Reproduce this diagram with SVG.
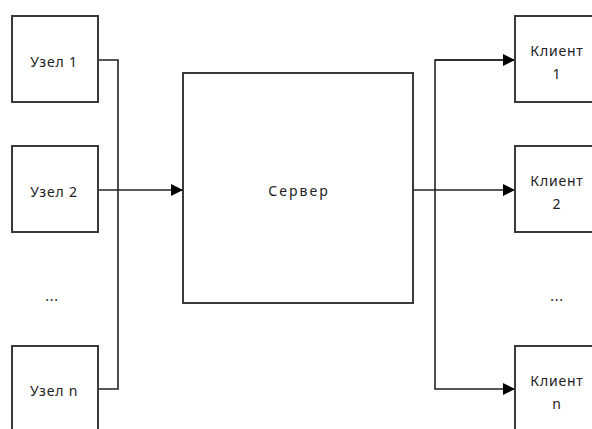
<svg xmlns="http://www.w3.org/2000/svg" width="592" height="429" viewBox="0 0 592 429">
<style>
.box{fill:#fff;stroke:#3a3a3a;stroke-width:2}
.lbl{font-family:"Noto Sans","Open Sans",sans-serif;font-size:14px;fill:#222;text-anchor:middle;dominant-baseline:central;letter-spacing:0.8px}
.ln{fill:none;stroke:#222;stroke-width:1.6}
</style>
<defs>
<marker id="arr" markerWidth="12" markerHeight="12" refX="12" refY="6" orient="auto" markerUnits="userSpaceOnUse">
<path d="M0,0 L12,6 L0,12 Z" fill="#000"/>
</marker>
</defs>
<rect width="592" height="429" fill="#fff"/>
<g id="connectors">
<path class="ln" d="M98,60 H118 V389 H98"/>
<path class="ln" d="M98,190 H183" marker-end="url(#arr)"/>
<path class="ln" d="M413,190 H515" marker-end="url(#arr)"/>
<path class="ln" d="M515,60 H435 V389 H515" marker-end="url(#arr)"/>
<path class="ln" d="M435,60 H515" marker-end="url(#arr)"/>
</g>
<g id="node1"><rect class="box" x="12" y="16" width="86" height="86"/><text class="lbl" x="54" y="61">Узел 1</text></g>
<g id="node2"><rect class="box" x="12" y="146" width="86" height="86"/><text class="lbl" x="54" y="191">Узел 2</text></g>
<g id="dots-left"><text class="lbl" x="52" y="295">...</text></g>
<g id="noden"><rect class="box" x="12" y="346" width="86" height="86"/><text class="lbl" x="54" y="390">Узел n</text></g>
<g id="server"><rect class="box" x="183" y="73" width="230" height="230"/><text class="lbl" x="299" y="190" style="letter-spacing:2px">Сервер</text></g>
<g id="client1"><rect class="box" x="515" y="16" width="86" height="86"/><text class="lbl" x="557" y="50">Клиент</text><text class="lbl" x="557" y="73">1</text></g>
<g id="client2"><rect class="box" x="515" y="146" width="86" height="86"/><text class="lbl" x="557" y="180">Клиент</text><text class="lbl" x="557" y="203">2</text></g>
<g id="dots-right"><text class="lbl" x="557" y="295">...</text></g>
<g id="clientn"><rect class="box" x="515" y="346" width="86" height="86"/><text class="lbl" x="557" y="380">Клиент</text><text class="lbl" x="557" y="403">n</text></g>
</svg>
